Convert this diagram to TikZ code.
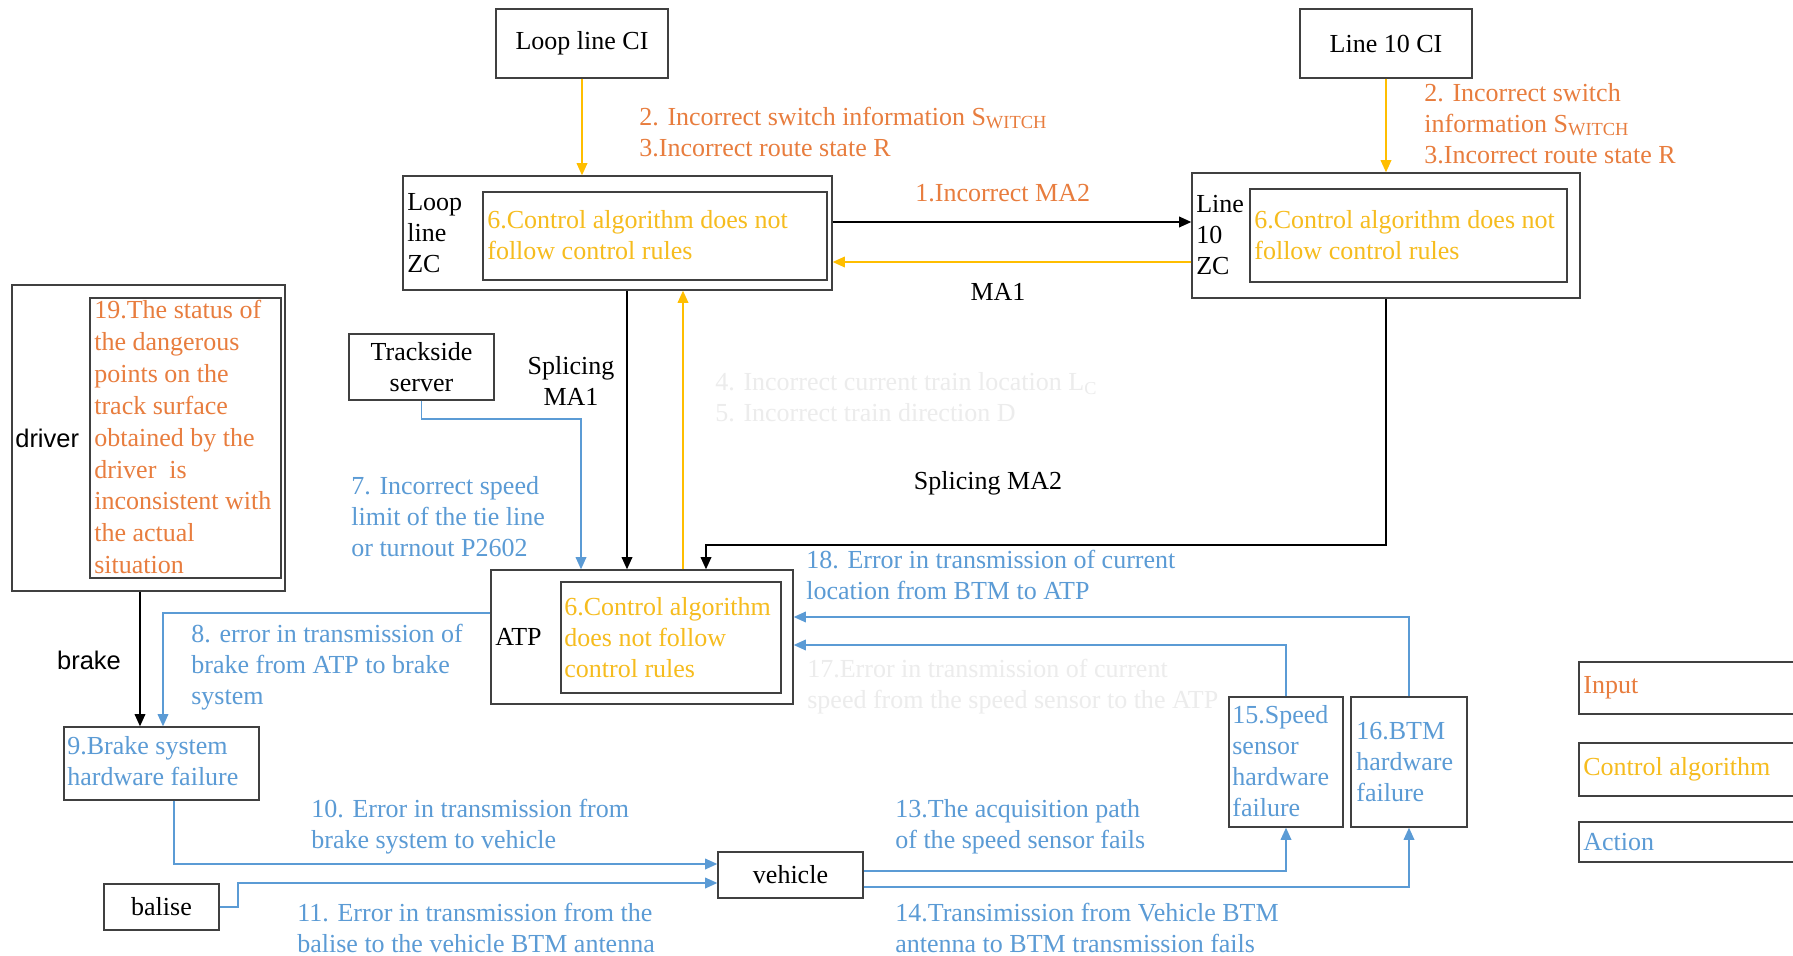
\documentclass[tikz,border=0pt]{standalone}
\usepackage{fontspec}
\setmainfont{Liberation Serif}
\newfontfamily\arialf{Liberation Sans}
\usetikzlibrary{arrows.meta,fit}
\definecolor{corange}{RGB}{232,125,62}
\definecolor{cyellow}{RGB}{246,188,30}
\definecolor{cblue}{RGB}{91,155,213}
\definecolor{cline}{RGB}{255,190,0}
\definecolor{cfaint}{RGB}{236,236,236}
\newcommand{\swsub}{S{\fontsize{10.5}{10}\selectfont\raisebox{-1.5pt}{WITCH}}}
\tikzset{
  box/.style={draw=black!75, line width=0.7pt, inner sep=0pt},
  txt/.style={inner sep=0pt, align=left, anchor=west, font=\fontsize{14.8}{17.6}\selectfont},
  ctxt/.style={inner sep=0pt, align=center, font=\fontsize{14.8}{17.6}\selectfont},
  conn/.style={line width=1.1pt, -{Triangle[length=7pt,width=6pt]}},
  blk/.style={conn, draw=black},
  yel/.style={conn, draw=cline},
  blu/.style={conn, draw=cblue},
}
\begin{document}
\begin{tikzpicture}[x=0.02cm, y=-0.02cm, font=\fontsize{14.8}{17.6}\selectfont]
\fill[white] (0,0) rectangle (1793,956);
\useasboundingbox (0,0) rectangle (1793,956);

% boxes
\node[box, fit={(496,9)(668,78)}] (loopCI) {};
\node[box, fit={(1300,9)(1472,78)}] (l10CI) {};
\node[box, fit={(403,176)(832,290)}] (loopZC) {};
\node[box, fit={(483,192)(827,280)}] (loopZCin) {};
\node[box, fit={(1192,173)(1580,298)}] (l10ZC) {};
\node[box, fit={(1250,189)(1567,282)}] (l10ZCin) {};
\node[box, fit={(12,285)(285,591)}] (driver) {};
\node[box, fit={(90,298)(281,578)}] (driverin) {};
\node[box, fit={(349,334)(494,400)}] (track) {};
\node[box, fit={(491,570)(793,704)}] (atp) {};
\node[box, fit={(561,582)(781,693)}] (atpin) {};
\node[box, fit={(64,727)(259,800)}] (brakebox) {};
\node[box, fit={(104,884)(219,930)}] (balise) {};
\node[box, fit={(718,852)(863,898)}] (vehicle) {};
\node[box, fit={(1229,697)(1343,827)}] (s15) {};
\node[box, fit={(1351,697)(1467,827)}] (s16) {};
\node[box, fit={(1579,662)(1810,714)}] (legI) {};
\node[box, fit={(1579,743)(1810,796)}] (legC) {};
\node[box, fit={(1579,822)(1810,862)}] (legA) {};

% box texts
\node[ctxt] (tloopCI) at (loopCI.center) {Loop line CI};
\node[ctxt] (tl10CI) at (l10CI.center) {Line 10 CI};
\node[ctxt] (ttrack) at (track.center) {Trackside\\server};
\node[ctxt] (tbalise) at (balise.center) {balise};
\node[ctxt] (tvehicle) at (vehicle.center) {vehicle};
\node[txt] (tloopZC) at (407,233) {Loop\\line\\ZC};
\node[txt, text=cyellow] (tloopZCin) at (487,235) {6.Control algorithm does not\\follow control rules};
\node[txt] (tl10ZC) at (1196,235) {Line\\10\\ZC};
\node[txt, text=cyellow] (tl10ZCin) at (1254,235) {6.Control algorithm does not\\follow control rules};
\node[txt, font=\arialf\fontsize{14.5}{17.6}\selectfont] (tdriver) at (15,438) {driver};
\node[txt, text=corange, font=\fontsize{14.8}{18.2}\selectfont] (tdriverin) at (94,437) {19.The status of\\the dangerous\\points on the\\track surface\\obtained by the\\driver\ \ is\\inconsistent with\\the actual\\situation};
\node[txt] (tatp) at (495,637) {ATP};
\node[txt, text=cyellow] (tatpin) at (564,638) {6.Control algorithm\\does not follow\\control rules};
\node[txt, text=cblue] (tbrake) at (67,761) {9.Brake system\\hardware failure};
\node[txt, text=cblue] (ts15) at (1232,761) {15.Speed\\sensor\\hardware\\failure};
\node[txt, text=cblue] (ts16) at (1356,762) {16.BTM\\hardware\\failure};
\node[txt, text=corange] (tlegI) at (1583,688) {Input};
\node[txt, text=cyellow] (tlegC) at (1583,769) {Control algorithm};
\node[txt, text=cblue] (tlegA) at (1583,842) {Action};

% connectors
\draw[yel] (loopCI.south) -- (loopZC.north -| loopCI.south);
\draw[yel] (l10CI.south) -- (l10ZC.north);
\draw[blk] (loopZC.east |- 0,222) -- (l10ZC.west |- 0,222);
\draw[yel] (l10ZC.west |- 0,262) -- (loopZC.east |- 0,262);
\draw[blk] (loopZC.south -| 627,0) -- (atp.north -| 627,0);
\draw[yel] (atp.north -| 683,0) -- (loopZC.south -| 683,0);
\draw[blk] (l10ZC.south) -- (1386,545) -- (706,545) -- (atp.north -| 706,0);
\draw[blu] (track.south) |- (581,419) -- (atp.north -| 581,0);
\draw[blu] (atp.west |- 0,613) -- (163,613) -- (brakebox.north -| 163,0);
\draw[blk] (driver.south -| 140,0) -- (brakebox.north -| 140,0);
\draw[blu] (brakebox.south -| 174,0) |- (vehicle.west |- 0,864);
\draw[blu] (balise.east) -- (238,907) |- (vehicle.west |- 0,883);
\draw[blu] (vehicle.east |- 0,871) -| (s15.south);
\draw[blu] (vehicle.east |- 0,887) -| (s16.south);
\draw[blu] (s15.north) |- (atp.east |- 0,645);
\draw[blu] (s16.north) |- (atp.east |- 0,617);

% labels
\node[txt, text=corange] (l1) at (915,193) {1.Incorrect MA2};
\node[ctxt] (lma1) at (998,292) {MA1};
\node[txt, text=corange] (l23a) at (639,132) {2. Incorrect switch information \swsub\\3.Incorrect route state R};
\node[txt, text=corange] (l23b) at (1424,124) {2. Incorrect switch\\information \swsub\\3.Incorrect route state R};
\node[ctxt] (lsp1) at (571,381) {Splicing\\MA1};
\node[txt, text=cfaint] (l45) at (715,397) {4. Incorrect current train location L\textsubscript{C}\\5. Incorrect train direction D};
\node[ctxt] (lsp2) at (988,483) {Splicing MA2};
\node[txt, text=cblue] (l7) at (351,517) {7. Incorrect speed\\limit of the tie line\\or turnout P2602};
\node[txt, text=cblue] (l18) at (806,575) {18. Error in transmission of current\\location from BTM to ATP};
\node[txt, text=cfaint] (l17) at (807,687) {17.Error in transmission of current\\speed from the speed sensor to the ATP};
\node[txt, text=cblue] (l8) at (191,667) {8. error in transmission of\\brake from ATP to brake\\system};
\node[ctxt, font=\arialf\fontsize{14.5}{17.6}\selectfont] (lbrake) at (89,660) {brake};
\node[txt, text=cblue] (l10) at (311,827) {10. Error in transmission from\\brake system to vehicle};
\node[txt, text=cblue] (l11) at (297,928) {11. Error in transmission from the\\balise to the vehicle BTM antenna};
\node[txt, text=cblue] (l13) at (895,827) {13.The acquisition path\\of the speed sensor fails};
\node[txt, text=cblue] (l14) at (895,928) {14.Transimission from Vehicle BTM\\antenna to BTM transmission fails};
\end{tikzpicture}
\end{document}
